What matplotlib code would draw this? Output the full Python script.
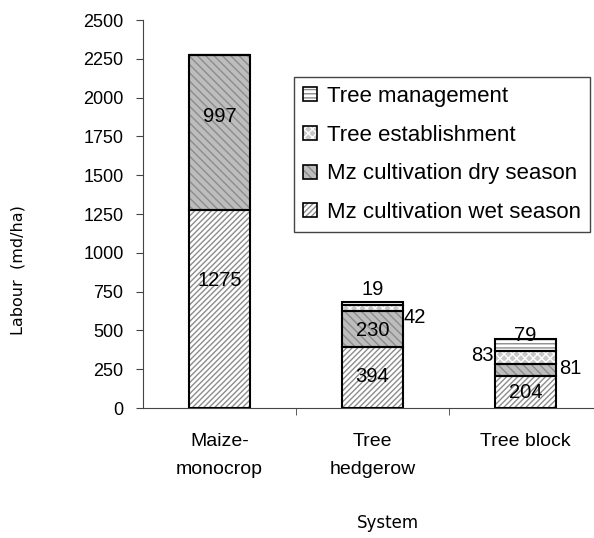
import numpy as np
import matplotlib.pyplot as plt
from matplotlib.patches import Patch
from matplotlib.legend_handler import HandlerTuple

plt.rcParams['font.family'] = ['Liberation Sans', 'DejaVu Sans']
plt.rcParams['hatch.linewidth'] = 1.0

# Data
systems = ['Maize-\nmonocrop', 'Tree\nhedgerow', 'Tree block']
mz_wet = [1275, 394, 204]
mz_dry = [997, 230, 81]
tree_est = [0, 42, 83]
tree_mgmt = [0, 19, 79]

series = [
    ('Mz cultivation wet season', mz_wet, 'white', '#8c8c8c', '//////'),
    ('Mz cultivation dry season', mz_dry, '#bdbdbd', '#8c8c8c', '\\\\\\\\'),
    ('Tree establishment', tree_est, '#c8c8c8', 'white', 'xxxx'),
    ('Tree management', tree_mgmt, 'white', '#8c8c8c', '----'),
]

fig = plt.figure(figsize=(5.94, 5.38), dpi=100)
ax = fig.add_axes([0.2407, 0.2416, 0.7727, 0.7212])

x = np.arange(len(systems))
width = 0.4
bottom = np.zeros(len(systems))
handles = []
for name, vals, face, hcol, hatch in series:
    vals = np.array(vals, dtype=float)
    ax.bar(x, vals, width, bottom=bottom, color=face, edgecolor=hcol,
           hatch=hatch, linewidth=0, zorder=2)
    ax.bar(x, vals, width, bottom=bottom, facecolor='none', edgecolor='black',
           linewidth=1.5, zorder=3)
    # hatched square with a black outline on top
    handles.append((Patch(facecolor=face, edgecolor=hcol, hatch=hatch, linewidth=0),
                    Patch(facecolor='none', edgecolor='black', linewidth=1.2)))
    bottom += vals

fs = 14.5
# labels: maize monocrop
ax.text(0, 820, '1275', ha='center', va='center', fontsize=fs, zorder=4)
ax.text(0, 1880, '997', ha='center', va='center', fontsize=fs, zorder=4)
# hedgerow
ax.text(1, 205, '394', ha='center', va='center', fontsize=fs, zorder=4)
ax.text(1, 500, '230', ha='center', va='center', fontsize=fs, zorder=4)
ax.text(1.2, 585, '42', ha='left', va='center', fontsize=fs, zorder=4)
ax.text(1, 765, '19', ha='center', va='center', fontsize=fs, zorder=4)
# tree block
ax.text(2, 100, '204', ha='center', va='center', fontsize=fs, zorder=4)
ax.text(2.22, 255, '81', ha='left', va='center', fontsize=fs, zorder=4)
ax.text(1.79, 340, '83', ha='right', va='center', fontsize=fs, zorder=4)
ax.text(2, 465, '79', ha='center', va='center', fontsize=fs, zorder=4)

ax.set_xlim(-0.5, 2.5)
ax.set_ylim(0, 2500)
ax.set_yticks(np.arange(0, 2501, 250))
ax.tick_params(axis='y', labelsize=13, length=5, pad=9, color='#444444')
ax.set_xticks(x)
ax.set_xticklabels(systems, fontsize=14, linespacing=1.85)
ax.tick_params(axis='x', which='major', length=0, pad=18)
ax.set_xticks([0.5, 1.5, 2.5], minor=True)
ax.tick_params(axis='x', which='minor', length=5, color='#444444')

for s in ['top', 'right']:
    ax.spines[s].set_visible(False)
for s in ['left', 'bottom']:
    ax.spines[s].set_color('#444444')

fig.text(18 / 594, 1 - 270 / 538, 'Labour  (md/ha)', rotation=90, ha='center',
         va='center', fontsize=11.5, family='DejaVu Sans')
fig.text(388 / 594, 1 - 523 / 538, 'System', ha='center', va='center',
         fontsize=12, family='DejaVu Sans')

leg = ax.legend(handles[::-1], [s[0] for s in series][::-1],
                handler_map={tuple: HandlerTuple(ndivide=1)},
                loc='upper left', bbox_to_anchor=(0.33, 0.853),
                fontsize=16, handlelength=0.6, handleheight=0.6,
                handletextpad=0.45, labelspacing=0.8, borderpad=0.4,
                borderaxespad=0, fancybox=False, framealpha=1,
                edgecolor='#444444')
leg.get_frame().set_linewidth(1.0)

fig.savefig('out.png', dpi=100)
